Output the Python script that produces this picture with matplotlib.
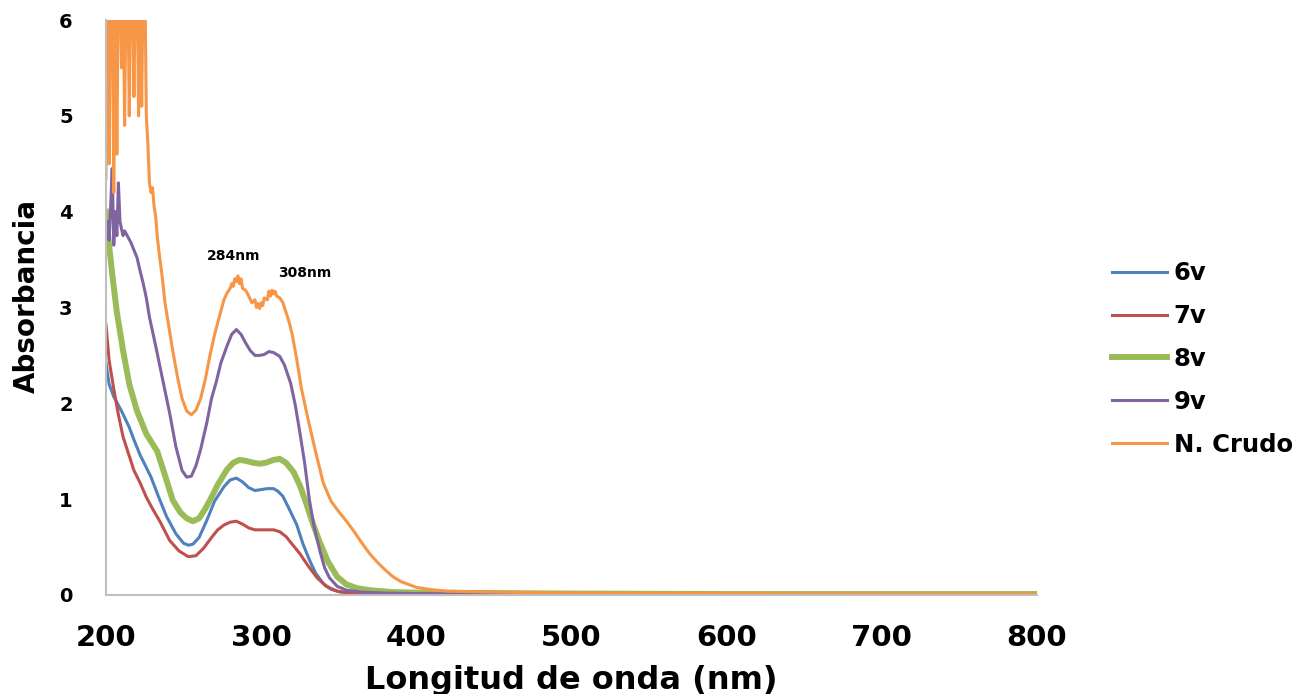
import matplotlib
matplotlib.use('Agg')
import matplotlib.pyplot as plt
from matplotlib import font_manager
import numpy as np

# absorbance spectra
wl_6v = [200, 202, 205, 210, 215, 218, 222, 226, 229, 234, 239, 245, 250, 253, 256, 260, 265, 270,
         276, 280, 284, 288, 292, 296, 300, 304, 308, 311, 314, 318, 323, 327, 331, 335, 340, 345,
         351, 360, 380, 400, 500, 600, 700, 800]
abs_6v = [2.42, 2.2, 2.07, 1.92, 1.75, 1.62, 1.46, 1.33, 1.23, 1.02, 0.82, 0.64, 0.54, 0.52, 0.53,
          0.6, 0.78, 0.98, 1.13, 1.2, 1.22, 1.18, 1.12, 1.09, 1.1, 1.11, 1.11, 1.08, 1.03, 0.9, 0.73,
          0.53, 0.37, 0.23, 0.12, 0.06, 0.03, 0.015, 0.01, 0.01, 0.005, 0.005, 0.005, 0.005]

wl_7v = [200, 202, 205, 208, 211, 215, 218, 222, 226, 230, 235, 241, 247, 253, 258, 263, 268, 272,
         276, 280, 284, 288, 292, 296, 300, 304, 308, 312, 316, 320, 325, 330, 336, 342, 349, 360,
         380, 400, 500, 600, 700, 800]
abs_7v = [2.82, 2.45, 2.15, 1.88, 1.65, 1.45, 1.3, 1.17, 1.02, 0.9, 0.76, 0.57, 0.46, 0.4, 0.41,
          0.49, 0.6, 0.68, 0.73, 0.76, 0.77, 0.74, 0.7, 0.68, 0.68, 0.68, 0.68, 0.66, 0.61, 0.53,
          0.43, 0.31, 0.18, 0.09, 0.04, 0.015, 0.005, 0.0, 0.0, 0.0, 0.0, 0.0]

wl_8v = [200, 202, 204, 207, 211, 215, 220, 226, 233, 238, 243, 248, 252, 256, 260, 264, 268, 272,
         278, 282, 286, 290, 295, 299, 303, 308, 312, 316, 321, 325, 329, 333, 338, 343, 349, 355,
         362, 370, 385, 400, 450, 500, 600, 700, 800]
abs_8v = [4.0, 3.65, 3.35, 2.95, 2.55, 2.2, 1.92, 1.68, 1.5, 1.25, 0.99, 0.86, 0.8, 0.77, 0.8, 0.9,
          1.02, 1.15, 1.31, 1.38, 1.41, 1.4, 1.38, 1.37, 1.38, 1.41, 1.42, 1.38, 1.28, 1.14, 0.96,
          0.76, 0.54, 0.35, 0.19, 0.11, 0.07, 0.05, 0.03, 0.025, 0.02, 0.015, 0.01, 0.01, 0.01]

wl_9v = [200, 201, 202, 203, 204, 205, 206, 207, 208, 209, 210, 211, 212, 214, 216, 218, 220, 222,
         224, 226, 228, 232, 237, 241, 245, 249, 252, 255, 258, 261, 265, 268, 271, 274, 278, 281,
         284, 287, 290, 293, 296, 299, 302, 305, 308, 312, 315, 319, 322, 325, 328, 331, 334, 338,
         341, 344, 349, 355, 365, 380, 400, 450, 500, 600, 700, 800]
abs_9v = [3.85, 3.9, 3.7, 4.05, 4.45, 3.65, 4.0, 3.75, 4.3, 3.9, 3.82, 3.75, 3.8, 3.74, 3.68, 3.6,
          3.52, 3.38, 3.25, 3.1, 2.9, 2.6, 2.21, 1.9, 1.55, 1.3, 1.23, 1.24, 1.35, 1.52, 1.8, 2.05,
          2.22, 2.42, 2.6, 2.72, 2.77, 2.72, 2.63, 2.55, 2.5, 2.5, 2.51, 2.54, 2.53, 2.49, 2.4, 2.21,
          1.98, 1.69, 1.38, 1.0, 0.72, 0.45, 0.28, 0.18, 0.09, 0.05, 0.03, 0.02, 0.015, 0.01, 0.005,
          0.005, 0.005, 0.005]

wl_crudo = list(range(200, 234)) + [234, 236, 238, 240, 243, 246, 249, 252, 255, 258, 261, 264, 267,
           270, 273, 276, 278, 280, 281, 282, 283, 284, 285, 286, 287, 288, 290, 292, 294, 296, 297,
           298, 299, 300, 301, 302, 304, 305, 306, 307, 308, 309, 310, 312, 314, 316, 318, 320, 323,
           326, 330, 335, 340, 345, 350, 355, 360, 365, 370, 375, 380, 385, 390, 400, 410, 420, 450,
           500, 600, 700, 800]
abs_crudo = [4.35, 6.5, 4.5, 6.5, 6.5, 4.2, 6.5, 4.6, 6.5, 6.5, 5.5, 6.5, 4.9, 6.5, 6.5, 5.0, 6.5,
             6.5, 5.2, 6.5, 6.5, 5.0, 6.5, 5.1, 6.5, 6.5, 5.0, 4.7, 4.3, 4.2, 4.25, 4.05, 3.95, 3.75,
             3.6, 3.35, 3.05, 2.85, 2.55, 2.28, 2.05, 1.92, 1.88, 1.93, 2.05, 2.25, 2.5, 2.72, 2.9,
             3.08, 3.15, 3.2, 3.25, 3.22, 3.3, 3.27, 3.33, 3.25, 3.3, 3.2, 3.18, 3.12, 3.05, 3.08,
             3.0, 3.04, 2.99, 3.05, 3.02, 3.1, 3.08, 3.17, 3.12, 3.18, 3.14, 3.17, 3.12, 3.1, 3.05,
             2.95, 2.85, 2.72, 2.45, 2.15, 1.85, 1.5, 1.17, 0.98, 0.87, 0.77, 0.66, 0.54, 0.43, 0.34,
             0.26, 0.19, 0.14, 0.08, 0.055, 0.04, 0.03, 0.02, 0.015, 0.01, 0.01]

series = [
    ('6v', wl_6v, abs_6v, '#4F81BD', 2.2),
    ('7v', wl_7v, abs_7v, '#C0504D', 2.2),
    ('8v', wl_8v, abs_8v, '#9BBB59', 4.3),
    ('9v', wl_9v, abs_9v, '#8064A2', 2.2),
    ('N. Crudo', wl_crudo, abs_crudo, '#F79646', 2.2),
]

x_ticks = [200, 300, 400, 500, 600, 700, 800]
y_ticks = [0, 1, 2, 3, 4, 5, 6]
peaks = [(282, 3.54, '284nm'), (328, 3.36, '308nm')]

# narrow font for the y label if there is one
installed = {f.name for f in font_manager.fontManager.ttflist}
if 'Liberation Sans Narrow' in installed:
    ylab_font, ylab_size = 'Liberation Sans Narrow', 27
else:
    ylab_font, ylab_size = 'DejaVu Sans', 20

fig = plt.figure(figsize=(13.09, 6.94), dpi=100)
ax = fig.add_axes([106 / 1309, 1 - 595 / 694, 931 / 1309, 575 / 694])

for name, wl, ab, col, lw in series:
    ax.plot(np.array(wl), np.array(ab), color=col, lw=lw, label=name, solid_joinstyle='round')

for px, py, txt in peaks:
    ax.text(px, py, txt, fontsize=10, fontweight='bold', ha='center', va='center')

ax.set_xlim(200, 800)
ax.set_ylim(0, 6)
ax.set_xticks(x_ticks)
ax.set_yticks(y_ticks)
ax.tick_params(length=0)
ax.tick_params(axis='x', pad=21, labelsize=21)
ax.tick_params(axis='y', pad=24, labelsize=14)
for lab in ax.get_xticklabels() + ax.get_yticklabels():
    lab.set_fontweight('bold')

for s in ['top', 'right']:
    ax.spines[s].set_visible(False)
for s in ['left', 'bottom']:
    ax.spines[s].set_color('#BFBFBF')
    ax.spines[s].set_linewidth(1.5)

ax.set_xlabel('Longitud de onda (nm)', fontsize=23, fontweight='bold')
ax.xaxis.set_label_coords(0.5, -0.122)
ax.set_ylabel('Absorbancia', fontsize=ylab_size, fontweight='bold', family=ylab_font)
ax.yaxis.set_label_coords(-0.07, 0.52)

fig.legend(loc='center left', bbox_to_anchor=(1090 / 1309, 1 - 359 / 694), frameon=False,
           prop={'weight': 'bold', 'size': 17.5}, labelspacing=0.78,
           handlelength=2.25, handletextpad=0.3)

fig.savefig('out.png', dpi=100)
